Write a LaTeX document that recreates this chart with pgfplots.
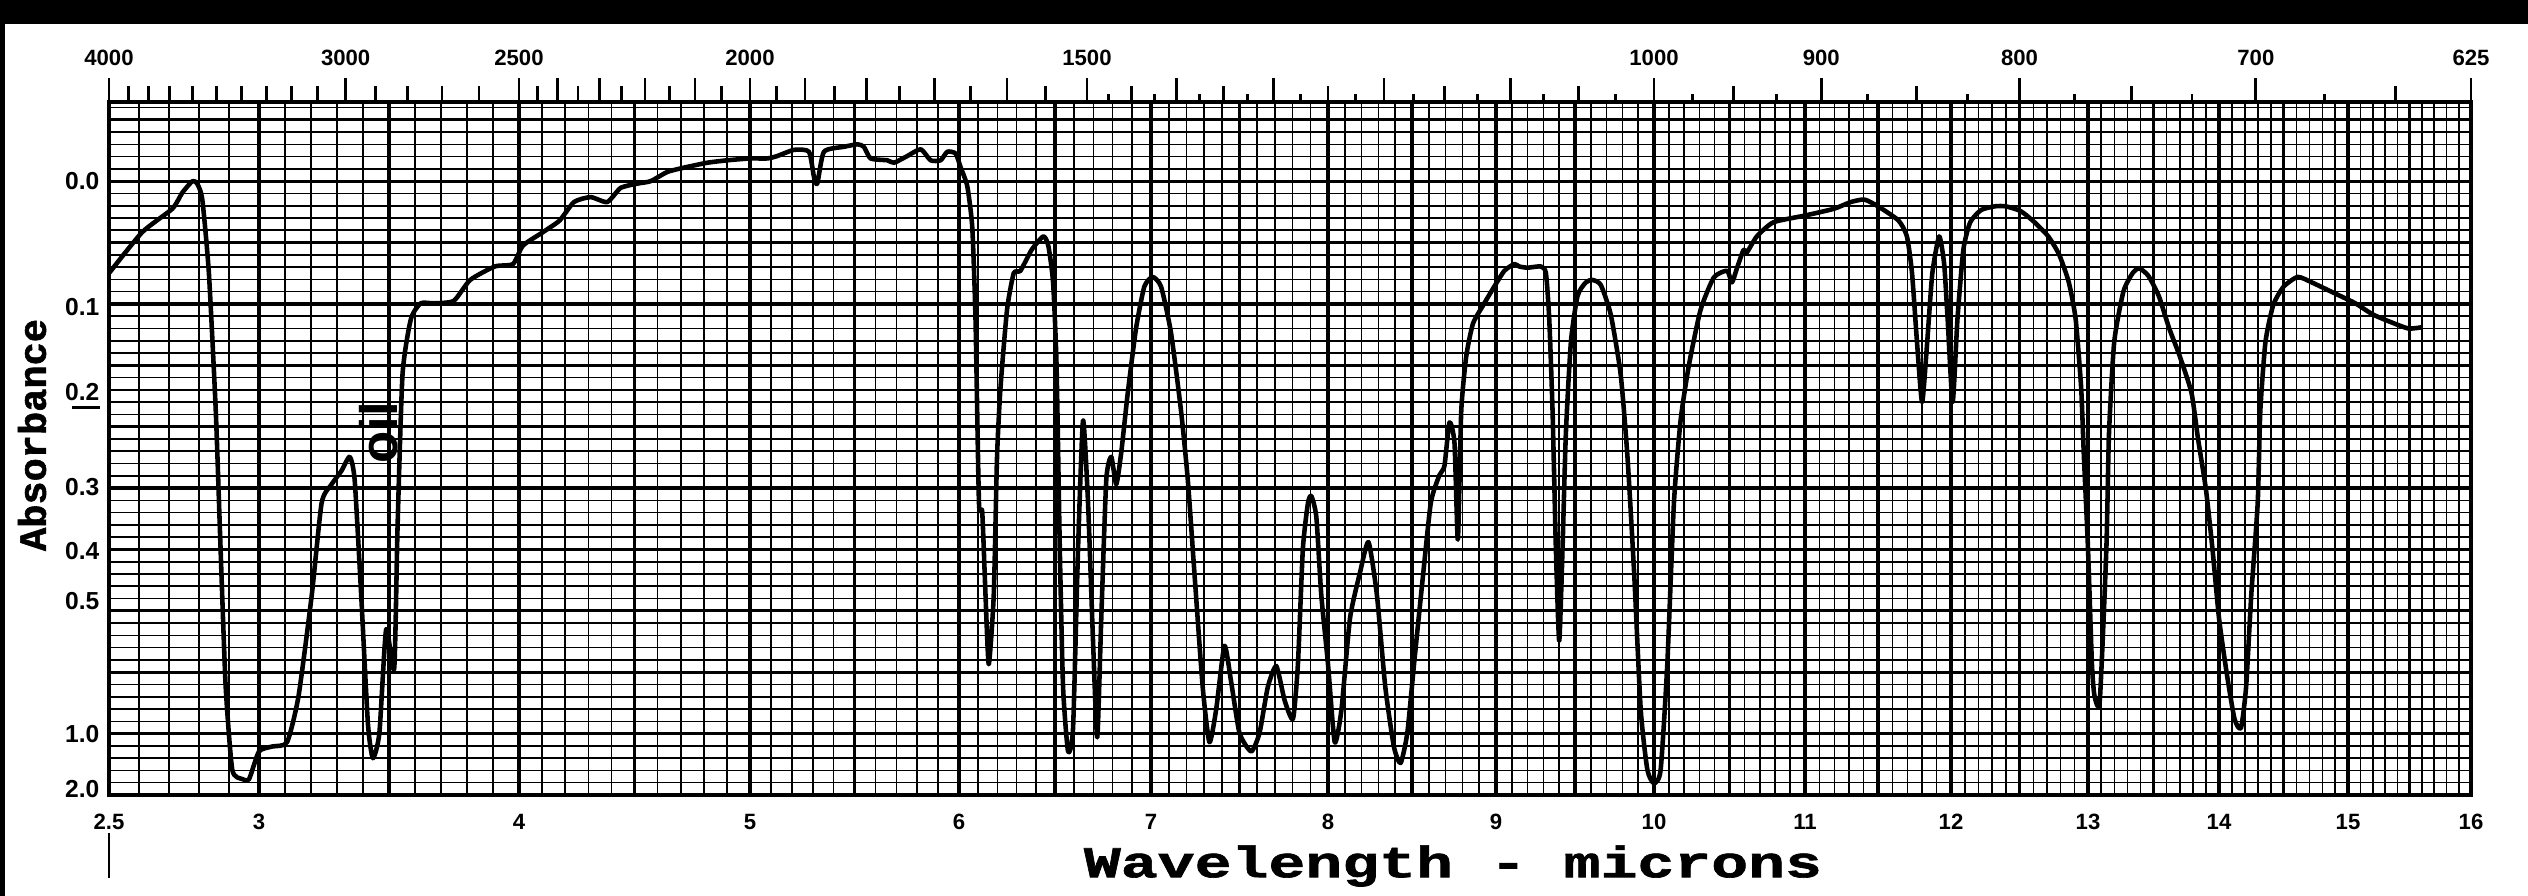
\documentclass[border=0pt]{standalone}
\usepackage{fontspec}
\setmainfont{Liberation Sans}
\newfontfamily\typefont[FakeStretch=1.4,FakeBold=1.5]{Liberation Mono Bold}
\newfontfamily\typefontb[FakeBold=1.5]{Liberation Mono Bold}
\usepackage{pgfplots}
\usepackage{pgfplotstable}
\pgfplotsset{compat=1.18}

% chart position (0.01 cm) of a wavelength in microns, piecewise linear as on the chart paper
\pgfmathdeclarefunction{lampx}{1}{%
  \pgfmathparse{(#1<3)?(109+300*(#1-2.5)):((#1<4)?(259+260*(#1-3)):((#1<5)?(519+231*(#1-4)):((#1<6)?(750+209*(#1-5)):((#1<7)?(959+192*(#1-6)):((#1<8)?(1151+177*(#1-7)):((#1<9)?(1328+168*(#1-8)):((#1<10)?(1496+158*(#1-9)):((#1<11)?(1654+151*(#1-10)):((#1<12)?(1805+146*(#1-11)):((#1<13)?(1951+137*(#1-12)):((#1<14)?(2088+131*(#1-13)):((#1<15)?(2219+129*(#1-14)):(2348+123*(#1-15))))))))))))))}%
}

% wavelength (microns), transmittance
\pgfplotstableread{
lam T
2.500 0.850
2.611 0.917
2.711 0.955
2.744 0.981
2.778 1.000
2.794 0.996
2.811 0.970
2.833 0.850
2.856 0.625
2.872 0.400
2.889 0.176
2.911 0.041
2.944 0.026
2.967 0.026
3.000 0.071
3.051 0.079
3.108 0.086
3.152 0.161
3.203 0.326
3.241 0.476
3.279 0.506
3.317 0.528
3.349 0.551
3.368 0.513
3.393 0.326
3.419 0.116
3.438 0.060
3.463 0.101
3.489 0.270
3.520 0.206
3.533 0.438
3.552 0.685
3.584 0.775
3.622 0.801
3.673 0.801
3.749 0.805
3.812 0.839
3.907 0.861
3.977 0.865
4.017 0.895
4.104 0.917
4.176 0.936
4.238 0.966
4.310 0.974
4.382 0.966
4.440 0.989
4.512 0.996
4.570 1.000
4.642 1.015
4.714 1.022
4.815 1.030
4.902 1.034
5.000 1.037
5.083 1.037
5.131 1.041
5.211 1.051
5.282 1.048
5.306 1.007
5.322 0.996
5.354 1.048
5.450 1.056
5.514 1.060
5.545 1.056
5.577 1.037
5.657 1.034
5.689 1.030
5.753 1.041
5.817 1.052
5.864 1.034
5.912 1.034
5.944 1.048
5.984 1.045
6.009 1.022
6.043 0.992
6.069 0.925
6.086 0.775
6.104 0.476
6.121 0.461
6.138 0.326
6.155 0.213
6.181 0.326
6.198 0.550
6.216 0.663
6.250 0.790
6.285 0.850
6.320 0.854
6.378 0.888
6.439 0.910
6.465 0.895
6.490 0.835
6.508 0.700
6.525 0.401
6.542 0.176
6.568 0.071
6.594 0.109
6.620 0.401
6.646 0.610
6.672 0.476
6.698 0.251
6.720 0.094
6.741 0.288
6.767 0.513
6.793 0.551
6.819 0.506
6.845 0.558
6.879 0.655
6.922 0.760
6.965 0.828
7.009 0.844
7.057 0.828
7.113 0.753
7.170 0.625
7.208 0.513
7.245 0.363
7.292 0.176
7.330 0.086
7.368 0.139
7.415 0.243
7.453 0.184
7.500 0.101
7.566 0.071
7.613 0.101
7.660 0.176
7.708 0.210
7.755 0.154
7.802 0.124
7.830 0.213
7.858 0.401
7.887 0.476
7.906 0.487
7.934 0.453
7.962 0.326
8.000 0.213
8.040 0.086
8.080 0.139
8.131 0.288
8.191 0.363
8.241 0.412
8.291 0.326
8.341 0.176
8.392 0.079
8.432 0.052
8.472 0.101
8.512 0.213
8.562 0.348
8.612 0.476
8.663 0.521
8.693 0.536
8.723 0.607
8.753 0.573
8.773 0.416
8.793 0.625
8.823 0.715
8.863 0.768
8.924 0.798
8.989 0.828
9.053 0.854
9.116 0.865
9.147 0.861
9.200 0.859
9.284 0.861
9.316 0.850
9.337 0.775
9.358 0.625
9.379 0.401
9.400 0.251
9.421 0.401
9.442 0.588
9.474 0.738
9.516 0.813
9.568 0.835
9.611 0.839
9.663 0.831
9.726 0.783
9.789 0.685
9.832 0.551
9.874 0.363
9.916 0.139
9.958 0.041
10.000 0.019
10.044 0.041
10.088 0.213
10.132 0.476
10.176 0.610
10.231 0.700
10.308 0.790
10.396 0.843
10.484 0.854
10.516 0.835
10.549 0.858
10.593 0.888
10.615 0.884
10.681 0.910
10.791 0.933
11.000 0.944
11.198 0.955
11.314 0.966
11.407 0.970
11.500 0.959
11.640 0.936
11.698 0.910
11.733 0.850
11.767 0.738
11.802 0.640
11.837 0.738
11.872 0.850
11.919 0.910
11.953 0.865
11.977 0.775
12.012 0.640
12.047 0.775
12.090 0.888
12.14 0.933
12.22 0.953
12.32 0.959
12.40 0.959
12.51 0.951
12.61 0.933
12.71 0.910
12.79 0.880
12.86 0.835
12.91 0.775
12.95 0.663
12.97 0.551
13.00 0.401
13.03 0.213
13.05 0.161
13.09 0.154
13.14 0.401
13.16 0.588
13.20 0.738
13.27 0.820
13.34 0.850
13.39 0.858
13.46 0.846
13.54 0.813
13.62 0.760
13.70 0.715
13.79 0.655
13.84 0.580
13.90 0.498
13.95 0.401
14.00 0.288
14.06 0.198
14.12 0.124
14.17 0.109
14.21 0.176
14.25 0.326
14.30 0.476
14.32 0.625
14.36 0.738
14.42 0.798
14.50 0.828
14.61 0.844
14.72 0.835
14.83 0.824
14.94 0.813
15.06 0.801
15.20 0.783
15.34 0.771
15.49 0.760
15.60 0.762
}\spectrum

\begin{document}
\begin{tikzpicture}
\pgfplotsset{every axis/.append style={
  at={(0,0)}, anchor=south west, scale only axis,
  width=23.62cm, height=6.93cm,
  axis line style={line width=1.1pt},
}}
% microns axis, grid and spectrum
\begin{axis}[
  x coord trafo/.code={\pgfmathparse{lampx(#1)}},
  xmin=2.5, xmax=16, ymin=0, ymax=1.129,
  xtick={2.5,3,4,...,16},
  xticklabels={2.5,3,4,5,6,7,8,9,10,11,12,13,14,15,16},
  minor xtick={2.5,2.6,...,16},
  extra x ticks={3.5,4.5,...,15.5},
  extra x tick labels={},
  extra x tick style={grid=major},
  ytick={1,0.7943,0.656,0.5012,0.3981,0.3162,0.1,0.01},
  yticklabels={0.0,0.1,0.2,0.3,0.4,0.5,1.0,2.0},
  minor ytick={0,0.02,...,1.12},
  extra y ticks={0.1,0.2,...,1.1},
  extra y tick labels={},
  extra y tick style={grid=major},
  xmajorgrids, xminorgrids, yminorgrids, ymajorgrids=false,
  major tick length=0pt, minor tick length=0pt,
  major grid style={line width=0.9pt, black},
  minor grid style={line width=0.45pt, black},
  xticklabel style={font=\bfseries\fontsize{6.3}{7}\selectfont, anchor=center, yshift=-0.27cm},
  yticklabel style={font=\bfseries\fontsize{7}{8}\selectfont, anchor=east, inner sep=0pt, xshift=-0.09cm},
  clip=false,
]
\addplot[black, line width=1.3pt, smooth, tension=0.35, line join=round] table[x=lam, y=T] {\spectrum};
\node[rotate=90, font=\bfseries\fontsize{15}{15}\selectfont] at (axis cs:3.46,0.59) {oil};
\end{axis}
% wavenumber ticks along the top
\begin{axis}[
  x coord trafo/.code={\pgfmathparse{lampx(10000/#1)}},
  xmin=4000, xmax=625, ymin=0, ymax=1,
  axis x line*=top, axis y line=none,
  xtick align=outside,
  xtick={4000,3000,2500,2400,2300,2200,2100,2000,1900,1800,1700,1600,1500,1400,1300,1200,1100,1000,900,800,700,625},
  xticklabels={4000,3000,2500,,,,,2000,,,,,1500,,,,,1000,900,800,700,625},
  minor xtick={3900,3800,3700,3600,3500,3400,3300,3200,3100,2900,2800,2700,2600,2450,2350,2250,2150,2050,1950,1850,1750,1650,1550,1450,1350,1250,1150,1050,950,850,750,650},
  extra x ticks={1475,1425,1375,1325,1275,1225,1175,1125,1075,1025,975,925,875,825,775,725,675},
  extra x tick labels={},
  extra x tick style={major tick length=0.08cm},
  major tick length=0.24cm, minor tick length=0.16cm,
  every tick/.style={black, line width=0.8pt},
  xticklabel style={font=\bfseries\fontsize{6.3}{7}\selectfont},
]
\end{axis}
\node[rotate=90, font=\typefontb\fontsize{11}{11}\selectfont] at (-0.77,3.60) {Absorbance};
\node[font=\typefont\fontsize{12.5}{12.5}\selectfont] at (13.44,-0.71) {Wavelength - microns};
\draw[line width=0.8pt] (0,-0.38) -- (0,-0.83);
\draw[line width=0.8pt] (-0.37,3.874) -- (-0.09,3.874);
\fill[black] (-1.09,7.71) rectangle (24.19,7.95);
\fill[black] (-1.09,-1.01) rectangle (-1.04,7.95);
\pgfresetboundingbox
\path (-1.09,-1.01) rectangle (24.19,7.95);
\end{tikzpicture}
\end{document}
